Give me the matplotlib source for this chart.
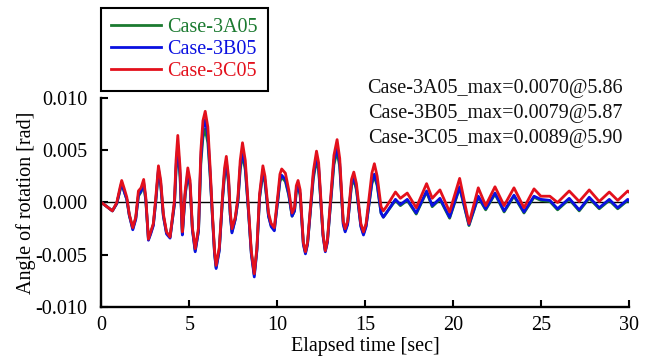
import numpy as np
import matplotlib
matplotlib.use("Agg")
import matplotlib.pyplot as plt

plt.rcParams['font.family'] = ['Liberation Serif', 'DejaVu Serif']
plt.rcParams['axes.unicode_minus'] = False

# read-off points, split into three time segments (sec)
t_early = [0.00, 0.39, 0.62, 0.87, 1.05, 1.15, 1.30, 1.44, 1.58, 1.78, 1.95, 2.10,
           2.25, 2.40, 2.52, 2.61, 2.67, 2.80, 2.95, 3.09, 3.24, 3.37, 3.52, 3.70,
           3.90, 4.15, 4.24, 4.34, 4.47, 4.57, 4.60, 4.76, 4.91, 5.04, 5.17, 5.33,
           5.52, 5.65, 5.77, 5.90, 6.05, 6.18, 6.32, 6.43, 6.52, 6.70, 6.89, 7.00,
           7.10, 7.23, 7.32, 7.42, 7.61, 7.76, 7.89, 8.02, 8.18, 8.37, 8.52, 8.69,
           8.84, 8.99]
t_mid = [9.18, 9.30, 9.50, 9.65, 9.83, 10.05, 10.15, 10.25, 10.46, 10.65, 10.84,
         10.98, 11.08, 11.18, 11.30, 11.48, 11.60, 11.72, 12.05, 12.23, 12.35,
         12.60, 12.73, 12.85, 13.22, 13.40, 13.55, 13.75, 13.86, 14.00, 14.22,
         14.35, 14.50, 14.75, 14.90, 15.05, 15.38, 15.52, 15.68, 15.90, 16.03, 16.20]
t_tail = [16.72, 17.00, 17.39, 17.90, 18.49, 18.81, 19.25, 19.80, 20.37, 20.90,
          21.43, 21.85, 22.38, 22.90, 23.46, 24.03, 24.60, 24.99, 25.50, 25.94,
          26.60, 27.17, 27.74, 28.31, 28.88, 29.36, 29.93, 30.00]

c05_early = [0.0, -0.0005, -0.0008, 0.0, 0.0014, 0.0021, 0.0013, 0.0005, -0.0011,
             -0.0024, -0.0014, 0.0011, 0.0014, 0.0022, 0.0005, -0.0020, -0.0035,
             -0.0028, -0.0020, 0.0005, 0.0035, 0.0021, -0.0011, -0.0028, -0.0033,
             0.0002, 0.0040, 0.0064, 0.0033, -0.0017, -0.0028, 0.0011, 0.0033,
             0.0021, -0.0024, -0.0044, -0.0024, 0.0049, 0.0078, 0.0087, 0.0072,
             0.0033, -0.0014, -0.0046, -0.0060, -0.0043, 0.0008, 0.0033, 0.0044,
             0.0024, -0.0008, -0.0025, -0.0014, 0.0005, 0.0040, 0.0057, 0.0040,
             -0.0008, -0.0046, -0.0068, -0.0043, 0.0008]
c05_mid = [0.0035, 0.0025, -0.0010, -0.0020, -0.0024, 0.0010, 0.0027, 0.0032, 0.0028,
           0.0012, -0.0010, -0.0005, 0.0016, 0.0021, 0.0012, -0.0038, -0.0047,
           -0.0038, 0.0030, 0.0049, 0.0038, -0.0030, -0.0046, -0.0036, 0.0045,
           0.0060, 0.0042, -0.0018, -0.0025, -0.0018, 0.0022, 0.0029, 0.0018,
           -0.0020, -0.0028, -0.0020, 0.0028, 0.0037, 0.0025, -0.0004, -0.0008, -0.0004]
c05_tail = [0.0010, 0.0004, 0.0009, -0.0005, 0.0018, 0.0004, 0.0012, -0.0009, 0.0023,
            -0.0020, 0.0014, -0.0003, 0.0015, -0.0003, 0.0014, -0.0005, 0.0013,
            0.0006, 0.0006, 0.0000, 0.0011, 0.0001, 0.0012, 0.0001, 0.0010, 0.0002,
            0.0011, 0.0010]

b05_early = [0.0, -0.0005, -0.0008, -0.0001, 0.0012, 0.0019, 0.0010, 0.0003, -0.0012,
             -0.0026, -0.0016, 0.0007, 0.0011, 0.0019, 0.0003, -0.0021, -0.0036,
             -0.0030, -0.0022, 0.0002, 0.0032, 0.0018, -0.0013, -0.0030, -0.0034,
             -0.0001, 0.0034, 0.0055, 0.0027, -0.0020, -0.0031, 0.0008, 0.0029,
             0.0017, -0.0026, -0.0047, -0.0027, 0.0042, 0.0070, 0.0079, 0.0064,
             0.0028, -0.0017, -0.0049, -0.0063, -0.0046, 0.0005, 0.0029, 0.0039,
             0.0020, -0.0011, -0.0029, -0.0016, 0.0002, 0.0034, 0.0050, 0.0034,
             -0.0011, -0.0049, -0.0071, -0.0046, 0.0005]
b05_mid = [0.0031, 0.0021, -0.0013, -0.0023, -0.0027, 0.0006, 0.0022, 0.0026, 0.0022,
           0.0008, -0.0013, -0.0008, 0.0012, 0.0017, 0.0008, -0.0040, -0.0049,
           -0.0040, 0.0026, 0.0044, 0.0034, -0.0032, -0.0047, -0.0038, 0.0040,
           0.0053, 0.0037, -0.0021, -0.0028, -0.0021, 0.0018, 0.0024, 0.0014,
           -0.0023, -0.0031, -0.0023, 0.0020, 0.0027, 0.0018, -0.0010, -0.0014, -0.0010]
b05_tail = [0.0003, -0.0002, 0.0003, -0.0010, 0.0011, -0.0003, 0.0004, -0.0014, 0.0015,
            -0.0021, 0.0006, -0.0006, 0.0009, -0.0008, 0.0007, -0.0009, 0.0006,
            0.0003, 0.0002, -0.0006, 0.0004, -0.0007, 0.0005, -0.0005, 0.0003,
            -0.0005, 0.0003, 0.0002]

a05_early = [0.0, -0.0005, -0.0008, -0.0001, 0.0011, 0.0018, 0.0010, 0.0003, -0.0012,
             -0.0025, -0.0015, 0.0006, 0.0010, 0.0017, 0.0002, -0.0021, -0.0035,
             -0.0029, -0.0021, 0.0001, 0.0030, 0.0016, -0.0013, -0.0029, -0.0033,
             -0.0002, 0.0030, 0.0050, 0.0024, -0.0019, -0.0030, 0.0007, 0.0026,
             0.0015, -0.0025, -0.0046, -0.0027, 0.0037, 0.0062, 0.0070, 0.0057,
             0.0025, -0.0016, -0.0048, -0.0062, -0.0045, 0.0004, 0.0026, 0.0035,
             0.0018, -0.0011, -0.0028, -0.0016, 0.0001, 0.0031, 0.0046, 0.0031,
             -0.0011, -0.0048, -0.0069, -0.0045, 0.0004]
a05_mid = [0.0028, 0.0019, -0.0013, -0.0022, -0.0026, 0.0005, 0.0020, 0.0024, 0.0020,
           0.0007, -0.0013, -0.0008, 0.0010, 0.0015, 0.0007, -0.0039, -0.0048,
           -0.0039, 0.0023, 0.0040, 0.0031, -0.0031, -0.0046, -0.0037, 0.0036,
           0.0049, 0.0034, -0.0020, -0.0027, -0.0020, 0.0016, 0.0022, 0.0012,
           -0.0022, -0.0030, -0.0022, 0.0018, 0.0025, 0.0016, -0.0010, -0.0014, -0.0010]
a05_tail = [0.0002, -0.0003, 0.0002, -0.0011, 0.0010, -0.0004, 0.0003, -0.0015, 0.0014,
            -0.0022, 0.0005, -0.0007, 0.0008, -0.0009, 0.0006, -0.0010, 0.0005,
            0.0002, 0.0001, -0.0007, 0.0003, -0.0008, 0.0004, -0.0006, 0.0002,
            -0.0006, 0.0002, 0.0001]

t = t_early + t_mid + t_tail
case_3a05 = a05_early + a05_mid + a05_tail
case_3b05 = b05_early + b05_mid + b05_tail
case_3c05 = c05_early + c05_mid + c05_tail

labels = ['Case-3A05', 'Case-3B05', 'Case-3C05']
colors = ['#1b7a30', '#0a10e0', '#e3101c']
notes = ['Case-3A05_max=0.0070@5.86',
         'Case-3B05_max=0.0079@5.87',
         'Case-3C05_max=0.0089@5.90']

fig = plt.figure(figsize=(6.53, 3.63), dpi=100)
ax = fig.add_axes([0.1554, 0.1534, 0.8078, 0.5775])

for y, lab, c in zip([case_3a05, case_3b05, case_3c05], labels, colors):
    ax.plot(t, y, color=c, lw=2.0, label=lab, solid_joinstyle='round')

ax.axhline(0, color='black', lw=1.0, zorder=0)
ax.set_xlim(0, 30)
ax.set_ylim(-0.010, 0.010)
ax.set_xticks([0, 5, 10, 15, 20, 25, 30])
ax.set_yticks([-0.010, -0.005, 0.0, 0.005, 0.010])
ax.set_yticklabels(['-0.010', '-0.005', '0.000', '0.005', '0.010'])
ax.tick_params(direction='in', length=5, width=1.5, labelsize=14.5)
ax.tick_params(axis='y', pad=10)
ax.tick_params(axis='x', pad=6)
for s in ['top', 'right']:
    ax.spines[s].set_visible(False)
for s in ['left', 'bottom']:
    ax.spines[s].set_linewidth(1.7)

ax.set_xlabel('Elapsed time [sec]', fontsize=14.5, labelpad=2)
ax.set_ylabel('Angle of rotation [rad]', fontsize=14.5, labelpad=0)

leg = fig.legend(loc='upper left', bbox_to_anchor=(101 / 653, 1 - 8 / 363),
                 borderaxespad=0, fontsize=14.5, fancybox=False,
                 edgecolor='black', framealpha=1, handlelength=2.5,
                 handletextpad=0.3, labelspacing=0.15, borderpad=0.5)
leg.get_frame().set_linewidth(1.5)
for txt, c in zip(leg.get_texts(), colors):
    txt.set_color(c)

for i, n in enumerate(notes):
    fig.text(495 / 653, 1 - (93 + 25 * i) / 363, n, ha='center', va='baseline',
             fontsize=14.5, color='#111111')

fig.savefig('out.png', dpi=100)
